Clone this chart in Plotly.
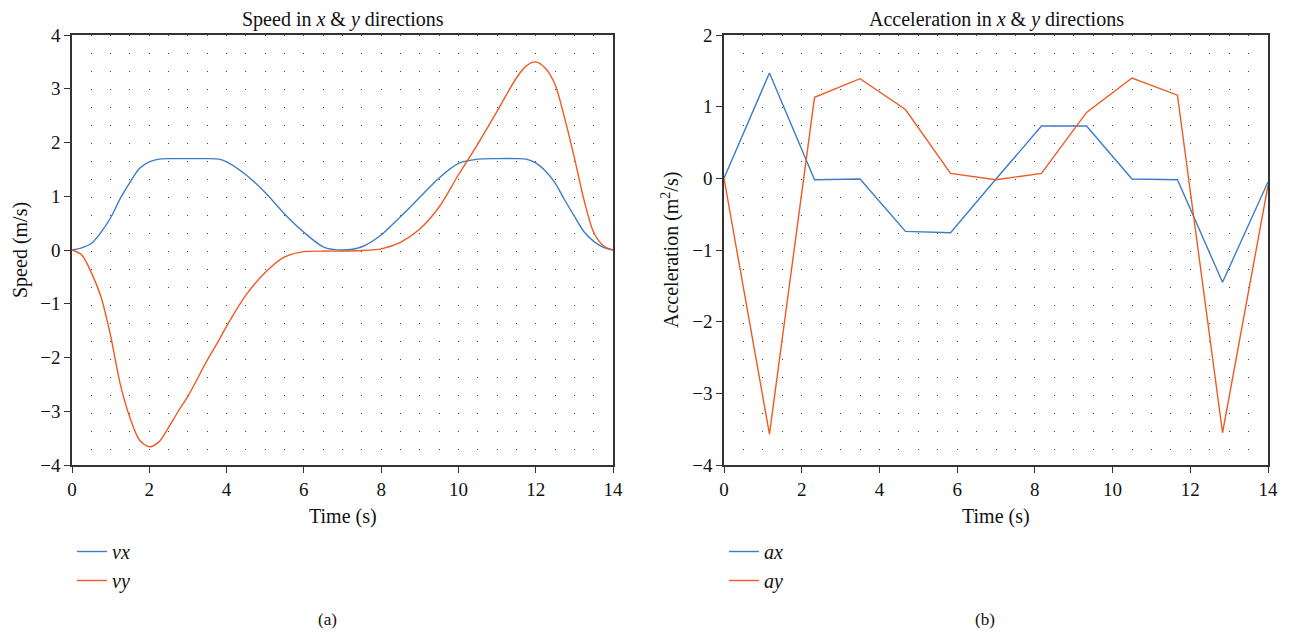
import plotly.graph_objects as go

# ---- data ----
t_speed = [0, 0.25, 0.5, 0.75, 1.0, 1.25, 1.5, 1.75, 2.0, 2.25, 2.5, 2.75, 3.0, 3.5, 3.8, 4.0, 4.5, 5.0, 5.5,
           6.0, 6.5, 7.0, 7.5, 8.0, 8.5, 9.0, 9.5, 10.0, 10.5, 11.0, 11.5, 11.75, 12.0, 12.25, 12.5, 12.75,
           13.0, 13.25, 13.5, 13.75, 14.0]
vx = [0, 0.04, 0.12, 0.33, 0.6, 0.96, 1.26, 1.52, 1.64, 1.69, 1.7, 1.7, 1.7, 1.7, 1.69, 1.64, 1.4, 1.07, 0.67,
      0.33, 0.06, 0.0, 0.06, 0.28, 0.62, 0.98, 1.34, 1.61, 1.69, 1.7, 1.7, 1.69, 1.62, 1.47, 1.25, 0.93,
      0.63, 0.34, 0.16, 0.05, 0.0]
vy = [0, -0.09, -0.42, -0.87, -1.6, -2.5, -3.12, -3.54, -3.66, -3.57, -3.3, -3.0, -2.72, -2.05, -1.68, -1.42,
      -0.84, -0.42, -0.13, -0.03, -0.02, -0.02, -0.01, 0.02, 0.14, 0.39, 0.8, 1.4, 1.97, 2.58, 3.2, 3.42, 3.5,
      3.38, 3.08, 2.45, 1.72, 0.93, 0.33, 0.08, 0.0]

t_acc = [0, 1.17, 2.33, 3.5, 4.67, 5.83, 7.0, 8.17, 9.33, 10.5, 11.67, 12.83, 14.0]
ax_ = [0, 1.47, -0.02, -0.01, -0.74, -0.76, -0.01, 0.73, 0.73, -0.01, -0.02, -1.45, -0.05]
ay_ = [0, -3.57, 1.13, 1.39, 0.96, 0.07, -0.02, 0.07, 0.92, 1.4, 1.16, -3.55, -0.1]

BLUE = "#3d7cc9"
ORANGE = "#ee5a24"
FONT = "Liberation Serif"
TXT = "#111"
OFF = 8  # page body margin
W, H = 1295 - 2 * OFF, 638 - 2 * OFF


def px(x):
    return (x - OFF) / W


def py(y):
    return 1 - (y - OFF) / H


L_dom = [px(72), px(613)]
R_dom = [px(724), px(1268)]
Y_dom = [py(465), py(35)]

fig = go.Figure()
fig.add_trace(go.Scatter(x=t_speed, y=vx, mode="lines", line=dict(color=BLUE, width=1.4, shape="spline", smoothing=0.8),
                         name="<i>vx</i>", xaxis="x", yaxis="y", legend="legend"))
fig.add_trace(go.Scatter(x=t_speed, y=vy, mode="lines", line=dict(color=ORANGE, width=1.4, shape="spline", smoothing=0.8),
                         name="<i>vy</i>", xaxis="x", yaxis="y", legend="legend"))
fig.add_trace(go.Scatter(x=t_acc, y=ax_, mode="lines", line=dict(color=BLUE, width=1.4),
                         name="<i>ax</i>", xaxis="x2", yaxis="y2", legend="legend2"))
fig.add_trace(go.Scatter(x=t_acc, y=ay_, mode="lines", line=dict(color=ORANGE, width=1.4),
                         name="<i>ay</i>", xaxis="x2", yaxis="y2", legend="legend2"))

tickfont = dict(family=FONT, size=19, color=TXT)
common_x = dict(range=[0, 14], dtick=2, tick0=0, ticks="outside", ticklen=6, tickwidth=1.3, tickcolor="#333",
                showline=True, linecolor="#333", linewidth=1.5, mirror=True, zeroline=False,
                showgrid=True, gridcolor="#444", griddash="1px,17px", gridwidth=1,
                minor=dict(dtick=0.5, showgrid=True, gridcolor="#444", griddash="1px,17px", gridwidth=1),
                tickfont=tickfont, automargin=False)
common_y = dict(dtick=1, ticks="outside", ticklen=6, tickwidth=1.3, tickcolor="#333",
                showline=True, linecolor="#333", linewidth=1.5, mirror=True, zeroline=False, showgrid=False,
                tickfont=tickfont, automargin=False)

legfont = dict(family=FONT, size=20, color=TXT)
fig.update_layout(
    width=W, height=H, margin=dict(l=0, r=0, t=0, b=0),
    plot_bgcolor="white", paper_bgcolor="white",
    xaxis=dict(domain=L_dom, anchor="y", **common_x),
    yaxis=dict(domain=Y_dom, anchor="x", range=[-4, 4], **common_y),
    xaxis2=dict(domain=R_dom, anchor="y2", **common_x),
    yaxis2=dict(domain=Y_dom, anchor="x2", range=[-4, 2], **common_y),
    legend=dict(x=px(72), y=py(532), xanchor="left", yanchor="top", bgcolor="rgba(0,0,0,0)",
                font=legfont, tracegroupgap=0),
    legend2=dict(x=px(724), y=py(532), xanchor="left", yanchor="top", bgcolor="rgba(0,0,0,0)",
                 font=legfont, tracegroupgap=0),
    showlegend=True,
)

ann = [
    ("Speed in <i>x</i> & <i>y</i> directions", (72 + 613) / 2, 19, 0, 20),
    ("Acceleration in <i>x</i> & <i>y</i> directions", (724 + 1268) / 2, 19, 0, 20),
    ("Time (s)", (72 + 613) / 2, 516, 0, 20),
    ("Time (s)", (724 + 1268) / 2, 516, 0, 20),
    ("Speed (m/s)", 20, 250, -90, 20),
    ("Acceleration (m<sup>2</sup>/s)", 670, 250, -90, 20),
    ("(a)", 327, 619, 0, 17),
    ("(b)", 985, 619, 0, 17),
]
for text, x, y, ang, size in ann:
    fig.add_annotation(text=text, x=px(x), y=py(y), xref="paper", yref="paper", showarrow=False,
                       xanchor="center", yanchor="middle", textangle=ang,
                       font=dict(family=FONT, size=size, color=TXT))

fig.write_html("out.html")
